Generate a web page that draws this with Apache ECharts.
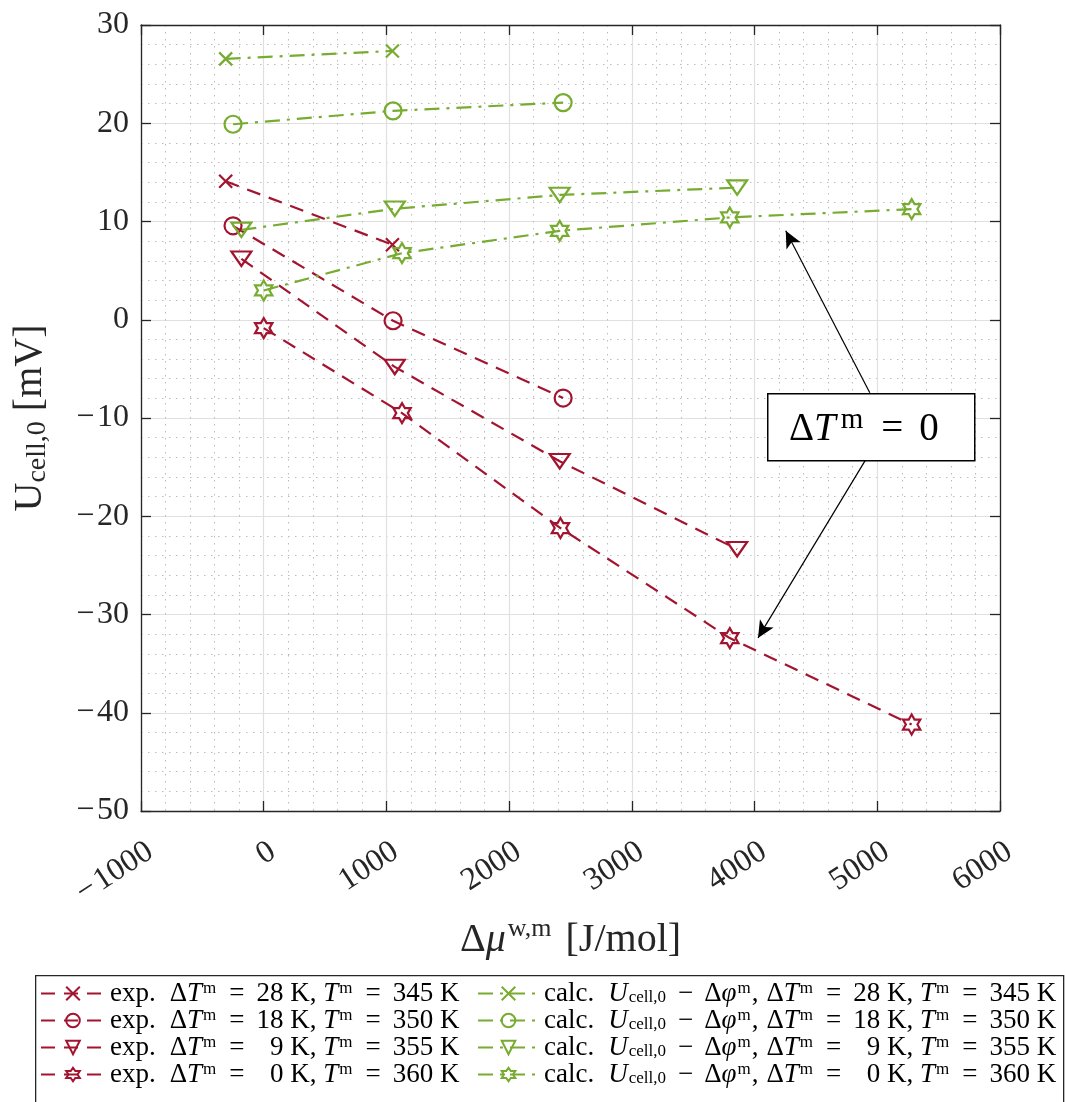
<!DOCTYPE html>
<html>
<head>
<meta charset="utf-8">
<script src="https://cdn.jsdelivr.net/npm/echarts@6/dist/echarts.min.js"></script>
<style>
html,body{margin:0;padding:0;background:#fff;}
#chart{width:1065px;height:1102px;}
</style>
</head>
<body>
<div id="chart"></div>
<script>
// ---------------- data ----------------
const xRange = [-1000, 6000];
const yRange = [-50, 30];
const xStep = 1000;
const yStep = 10;

const xExp28 = [-310, 1049];
const yExp28 = [14.1, 7.63];
const xExp18 = [-250, 1054, 2440];
const yExp18 = [9.56, -0.1, -7.97];
const xExp9 = [-182, 1068, 2412, 3858];
const yExp9 = [6.2, -4.8, -14.4, -23.35];
const xExp0 = [0, 1127, 2418, 3798, 5280];
const yExp0 = [-0.85, -9.5, -21.2, -32.4, -41.2];

const xCalc28 = [-310, 1049];
const yCalc28 = [26.55, 27.36];
const xCalc18 = [-250, 1054, 2440];
const yCalc18 = [19.9, 21.26, 22.1];
const xCalc9 = [-182, 1068, 2412, 3858];
const yCalc9 = [9.15, 11.3, 12.7, 13.45];
const xCalc0 = [0, 1127, 2412, 3798, 5280];
const yCalc0 = [2.98, 6.78, 9.05, 10.41, 11.26];

const dT = ['28', '18', '9', '0'];
const Tm = ['345', '350', '355', '360'];

// annotation arrows (data coords): [from, to]
const arrowUp = [[4939, -7.43], [4254, 9.05]];
const arrowDown = [[4906, -14.24], [4028, -32.38]];

// ---------------- styles ----------------
const RED = '#A2142F';
const GREEN = '#77AC30';
const FONT = 'Liberation Serif';

function hexagram() {
  let p = '';
  for (let i = 0; i < 12; i++) {
    const a = (-90 + 30 * i) * Math.PI / 180;
    const r = i % 2 === 0 ? 50 : 28.87;
    p += (i ? 'L' : 'M') + (50 + r * Math.cos(a)).toFixed(2) + ',' + (50 + r * Math.sin(a)).toFixed(2);
  }
  return 'path://' + p + 'Z';
}
const SYM = {
  x: { symbol: 'path://M0,0L10,10M10,0L0,10', size: 13 },
  o: { symbol: 'circle', size: 17 },
  v: { symbol: 'path://M0,0L20,0L10,17Z', size: [20, 17] },
  h: { symbol: hexagram(), size: 20 }
};
const symKeys = ['x', 'o', 'v', 'h'];

function zip(xs, ys) { return xs.map((x, i) => [x, ys[i]]); }

const expX = [xExp28, xExp18, xExp9, xExp0];
const expY = [yExp28, yExp18, yExp9, yExp0];
const calcX = [xCalc28, xCalc18, xCalc9, xCalc0];
const calcY = [yCalc28, yCalc18, yCalc9, yCalc0];

const expNames = [], calcNames = [];
const richLabel = {};
const series = [];

function padT(t) { return t.length === 1 ? '\u2007' + t : t; }
const EQ = '{e|=}';

for (let k = 0; k < 4; k++) {
  const en = 'exp' + k, cn = 'calc' + k;
  expNames.push(en); calcNames.push(cn);
  richLabel[en] = '{g|exp.}{r|\u0394}{i|T}{s|m}' + EQ + '{r|' + padT(dT[k]) + ' K, }{i|T}{s|m}' + EQ + '{r|' + Tm[k] + ' K}';
  richLabel[cn] = '{g|calc.}{i|U}{b|cell,0}{m|\u2212}{r|\u0394}{i|\u03C6}{s|m}{c|,}{r|\u0394}{i|T}{s|m}' + EQ + '{r|' + padT(dT[k]) + ' K, }{i|T}{s|m}' + EQ + '{r|' + Tm[k] + ' K}';
  const s = SYM[symKeys[k]];
  series.push({
    name: en, type: 'line', xAxisIndex: 0, yAxisIndex: 0,
    data: zip(expX[k], expY[k]),
    symbol: s.symbol, symbolSize: s.size, symbolKeepAspect: true,
    lineStyle: { color: RED, width: 2.2, type: [14, 9] },
    itemStyle: { color: 'rgba(0,0,0,0)', borderColor: RED, borderWidth: 2.2 },
    emphasis: { disabled: true }, z: 3
  });
  series.push({
    name: cn, type: 'line', xAxisIndex: 0, yAxisIndex: 0,
    data: zip(calcX[k], calcY[k]),
    symbol: s.symbol, symbolSize: s.size, symbolKeepAspect: true,
    lineStyle: { color: GREEN, width: 2.2, type: [15, 7, 3, 7] },
    itemStyle: { color: 'rgba(0,0,0,0)', borderColor: GREEN, borderWidth: 2.2 },
    emphasis: { disabled: true }, z: 3
  });
}

// arrows
series.push({
  name: 'annot', type: 'line', data: [], silent: true,
  markLine: {
    silent: true, animation: false,
    symbol: ['none', 'arrow'], symbolSize: [12, 17],
    label: { show: false },
    lineStyle: { color: '#000', width: 1.2, type: 'solid' },
    emphasis: { disabled: true },
    data: [
      [{ coord: arrowUp[0] }, { coord: arrowUp[1] }],
      [{ coord: arrowDown[0] }, { coord: arrowDown[1] }]
    ]
  }
});

const LF = 27;
const LH = 22;
const legendRich = {
  g: { fontFamily: FONT, fontSize: LF, color: '#000', lineHeight: LH, padding: [0, 14, 0, 0] },
  r: { fontFamily: FONT, fontSize: LF, color: '#000', lineHeight: LH },
  i: { fontFamily: FONT, fontSize: LF, fontStyle: 'italic', color: '#000', lineHeight: LH },
  e: { fontFamily: FONT, fontSize: LF, color: '#000', lineHeight: LH, padding: [0, 12, 0, 12] },
  m: { fontFamily: FONT, fontSize: LF, color: '#000', lineHeight: LH, padding: [0, 11, 0, 11] },
  c: { fontFamily: FONT, fontSize: LF, color: '#000', lineHeight: LH, padding: [0, 8, 0, 0] },
  s: { fontFamily: FONT, fontSize: 17, color: '#000', lineHeight: LH, padding: [0, 1, 10, 1] },
  b: { fontFamily: FONT, fontSize: 17, color: '#000', lineHeight: LH, padding: [9, 1, 0, 1] }
};

const axisCol = '#262626';
const tickFont = { fontFamily: FONT, fontSize: 32, color: '#262626' };
function minusFmt(v) { return String(v).replace('-', '\u2212\u200A'); }

const option = {
  animation: false,
  backgroundColor: '#fff',
  grid: { left: 141, right: 65, top: 25, bottom: 291, containLabel: false },
  xAxis: [{
    type: 'value', min: xRange[0], max: xRange[1], interval: xStep, position: 'bottom',
    axisLine: { show: true, onZero: false, lineStyle: { color: axisCol, width: 1.3 } },
    axisTick: { show: true, inside: true, length: 10, lineStyle: { color: axisCol, width: 1.3 } },
    axisLabel: Object.assign({ rotate: 33, margin: 44, padding: [0, -11, 0, 0], formatter: minusFmt }, tickFont),
    splitLine: { show: true, lineStyle: { color: '#e0e0e0', width: 1.2 } },
    minorTick: { show: false, splitNumber: 5 },
    minorSplitLine: { show: true, lineStyle: { color: '#bcbcbc', width: 1, type: [1.5, 5.5] } },
    name: '{r|\u0394}{i|\u03BC}{s|w,m}{r|[J/mol]}', nameLocation: 'middle', nameGap: 108,
    nameTextStyle: {
      rich: {
        r: { fontFamily: FONT, fontSize: 40, color: '#262626', lineHeight: 42 },
        i: { fontFamily: FONT, fontSize: 40, fontStyle: 'italic', color: '#262626', lineHeight: 42 },
        s: { fontFamily: FONT, fontSize: 26, color: '#262626', lineHeight: 42, padding: [0, 14, 22, 2] }
      }
    }
  }, {
    type: 'value', min: xRange[0], max: xRange[1], interval: xStep, position: 'top',
    axisLine: { show: true, onZero: false, lineStyle: { color: axisCol, width: 1.3 } },
    axisTick: { show: true, inside: true, length: 10, lineStyle: { color: axisCol, width: 1.3 } },
    axisLabel: { show: false }, splitLine: { show: false }
  }],
  yAxis: [{
    type: 'value', min: yRange[0], max: yRange[1], interval: yStep, position: 'left',
    axisLine: { show: true, onZero: false, lineStyle: { color: axisCol, width: 1.3 } },
    axisTick: { show: true, inside: true, length: 10, lineStyle: { color: axisCol, width: 1.3 } },
    axisLabel: Object.assign({ margin: 12, formatter: minusFmt }, tickFont),
    splitLine: { show: true, lineStyle: { color: '#e0e0e0', width: 1.2 } },
    minorTick: { show: false, splitNumber: 5 },
    minorSplitLine: { show: true, lineStyle: { color: '#bcbcbc', width: 1, type: [1.5, 5.5] } },
    name: '{u|U}{b|cell,0}{r| [mV]}', nameLocation: 'middle', nameGap: 90,
    nameTextStyle: {
      rich: {
        u: { fontFamily: FONT, fontSize: 40, color: '#262626', lineHeight: 42 },
        r: { fontFamily: FONT, fontSize: 40, color: '#262626', lineHeight: 42 },
        b: { fontFamily: FONT, fontSize: 28, color: '#262626', lineHeight: 42, padding: [16, 0, 0, 0] }
      }
    }
  }, {
    type: 'value', min: yRange[0], max: yRange[1], interval: yStep, position: 'right',
    axisLine: { show: true, onZero: false, lineStyle: { color: axisCol, width: 1.3 } },
    axisTick: { show: true, inside: true, length: 10, lineStyle: { color: axisCol, width: 1.3 } },
    axisLabel: { show: false }, splitLine: { show: false }
  }],
  legend: [{
    data: expNames, orient: 'vertical', left: 40, top: 980,
    itemWidth: 64, itemHeight: 17, itemGap: 0, padding: 0,
    formatter: n => richLabel[n],
    textStyle: { rich: legendRich },
    selectedMode: false
  }, {
    data: calcNames, orient: 'vertical', left: 477, top: 980,
    itemWidth: 61, itemHeight: 17, itemGap: 0, padding: 0,
    formatter: n => richLabel[n],
    textStyle: { rich: legendRich },
    selectedMode: false
  }],
  graphic: [
    {
      type: 'rect', left: 35, top: 975, z: 0,
      shape: { x: 0, y: 0, width: 1028, height: 130 },
      style: { fill: '#fff', stroke: '#262626', lineWidth: 1.3 }
    },
    {
      type: 'rect', left: 767, top: 393, z: 10,
      shape: { x: 0, y: 0, width: 207, height: 67 },
      style: { fill: '#fff', stroke: '#000', lineWidth: 1.5 }
    },
    {
      type: 'text', left: 789, top: 406, z: 11,
      style: {
        text: '{r|\u0394}{i|T}{s|m}{e|=}{r|0}',
        rich: {
          r: { fontFamily: FONT, fontSize: 39, color: '#000', lineHeight: 48 },
          i: { fontFamily: FONT, fontSize: 39, fontStyle: 'italic', color: '#000', lineHeight: 48, padding: [0, 5, 0, 0] },
          e: { fontFamily: FONT, fontSize: 39, color: '#000', lineHeight: 48, padding: [0, 16, 0, 16] },
          s: { fontFamily: FONT, fontSize: 29, color: '#000', lineHeight: 48, padding: [0, 2, 18, 0] }
        }
      }
    }
  ],
  series: series
};

const chart = echarts.init(document.getElementById('chart'), null, { renderer: 'canvas' });
chart.setOption(option);
</script>
</body>
</html>
